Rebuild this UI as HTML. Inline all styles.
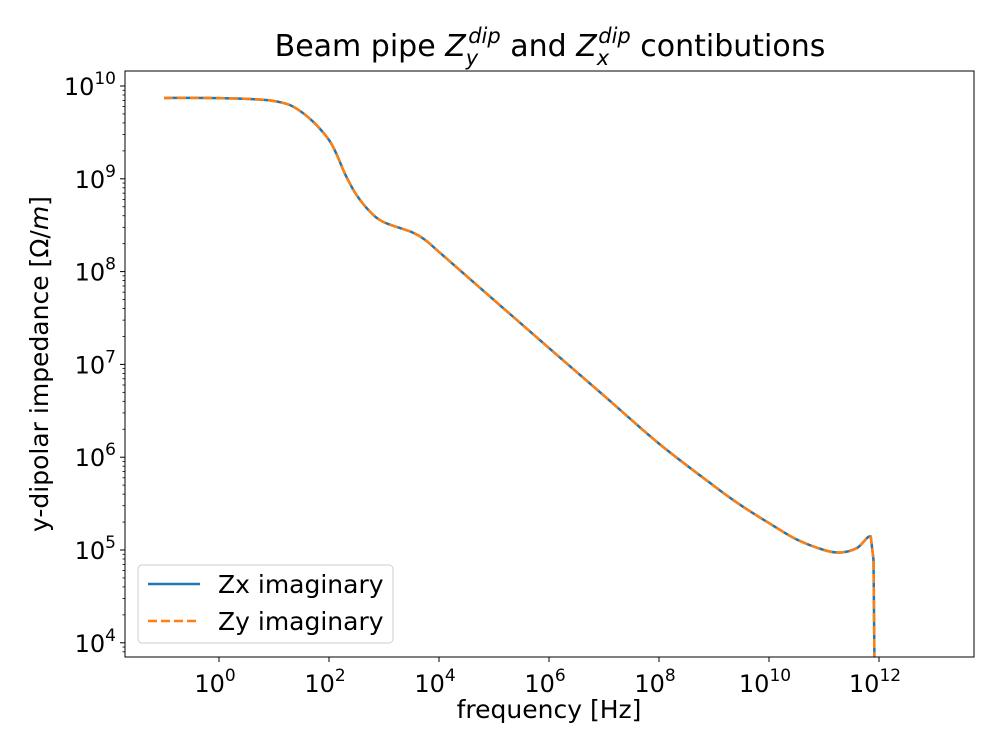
<!DOCTYPE html>
<html><head><meta charset="utf-8"><style>
body{margin:0;background:#fff}
svg text{font-family:"DejaVu Sans","Liberation Sans",sans-serif;fill:#000}
</style></head><body>
<svg id="c" width="1000" height="750" viewBox="0 0 1000 750">
<text x="550" y="56" font-size="30" text-anchor="middle">Beam pipe <tspan font-style="italic">Z</tspan><tspan font-style="italic" font-size="21" dy="9">y</tspan><tspan font-style="italic" font-size="21" dx="-10" dy="-22">dip</tspan><tspan dy="13"> and </tspan><tspan font-style="italic">Z</tspan><tspan font-style="italic" font-size="21" dy="9">x</tspan><tspan font-style="italic" font-size="21" dx="-11" dy="-22">dip</tspan><tspan dy="13"> contibutions</tspan></text>
<g id="axes"></g>
<g id="series"></g>
<rect x="125" y="71" width="849" height="586" fill="none" stroke="#000" stroke-width="1"/>
<text x="549" y="718" font-size="25" text-anchor="middle">frequency [Hz]</text>
<text transform="translate(48,364) rotate(-90)" font-size="25" text-anchor="middle">y-dipolar impedance [Ω/<tspan font-style="italic">m</tspan>]</text>
<g>
<rect x="138" y="565" width="255" height="78" rx="4" fill="#fff" fill-opacity="0.8" stroke="#ccc"/>
<line x1="148" y1="584" x2="200" y2="584" stroke="#1f77b4" stroke-width="2.5"/>
<text x="218" y="593" font-size="25">Zx imaginary</text>
<line x1="148" y1="621" x2="200" y2="621" stroke="#ff7f0e" stroke-width="2.5" stroke-dasharray="9,4"/>
<text x="218" y="630" font-size="25">Zy imaginary</text>
</g>
</svg>
<script>
const freqExp = [-1,0,1,1.5,2,2.3,2.5,2.75,3,3.5,3.75,4,5,6,7,8,9,9.5,10,10.5,11,11.3,11.6,11.85,11.9,11.93];
const zxImag = [7.43e9,7.4e9,6.9e9,5.25e9,2.62e9,1.1e9,6.7e8,4.4e8,3.4e8,2.67e8,2.19e8,1.63e8,4.94e7,1.5e7,4.6e6,1.4e6,4.9e5,3.0e5,1.95e5,1.3e5,1.0e5,9.4e4,1.05e5,1.4e5,7.8e4,1e3];
const zyImag = [7.43e9,7.4e9,6.9e9,5.25e9,2.62e9,1.1e9,6.7e8,4.4e8,3.4e8,2.67e8,2.19e8,1.63e8,4.94e7,1.5e7,4.6e6,1.4e6,4.9e5,3.0e5,1.95e5,1.3e5,1.0e5,9.4e4,1.05e5,1.4e5,7.8e4,1e3];
const xTickExp = [0,2,4,6,8,10,12];
const yTickExp = [4,5,6,7,8,9,10];
const NS='http://www.w3.org/2000/svg';
const X = e => 219 + 55*e;
const Y = v => 86 + (10 - Math.log10(v))*92.8;
const axes=document.getElementById('axes'), ser=document.getElementById('series');
function mk(t,a,p){const e=document.createElementNS(NS,t);for(const k in a)e.setAttribute(k,a[k]);p.appendChild(e);return e;}
xTickExp.forEach(e=>{
  const x=X(e);
  const l=mk('line',{x1:x,x2:x,y1:657,y2:662,stroke:'#000'},axes);
  
  
  const t=mk('text',{x:x-4,y:692,'font-size':24,'text-anchor':'middle'},axes);
  
  
  t.innerHTML='10<tspan font-size="17" dy="-11">'+e+'</tspan>';
});
yTickExp.forEach(e=>{
  const y=Y(Math.pow(10,e));
  const l=mk('line',{x1:120,x2:125,y1:y,y2:y,stroke:'#000'},axes);
  
  
  const t=mk('text',{x:116,y:y+9,'font-size':24,'text-anchor':'end'},axes);
  
  
  t.innerHTML='10<tspan font-size="17" dy="-11">'+e+'</tspan>';
});
for(let e=3;e<=10;e++)for(let m=2;m<=9;m++){
  const y=Y(m*Math.pow(10,e)); if(y<71||y>657)continue;
  const l=mk('line',{x1:122.5,x2:125,y1:y,y2:y,stroke:'#000','stroke-width':0.8},axes);
  
  
}
function path(vals){
  const p=freqExp.map((e,i)=>[X(e),Y(vals[i])]);
  let d='M'+p[0][0]+','+p[0][1];
  for(let i=0;i<p.length-1;i++){
    const p0=p[i-1]||p[i],p1=p[i],p2=p[i+1],p3=p[i+2]||p2;
    const t=(i>=p.length-3)?0:1/6;
    d+=' C'+(p1[0]+(p2[0]-p0[0])*t)+','+(p1[1]+(p2[1]-p0[1])*t)+' '+(p2[0]-(p3[0]-p1[0])*t)+','+(p2[1]-(p3[1]-p1[1])*t)+' '+p2[0]+','+p2[1];
  }
  return d;
}
mk('clipPath',{id:'clip'},document.getElementById('c')).appendChild(document.createElementNS(NS,'rect'));
const cr=document.querySelector('#clip rect');cr.setAttribute('x',125);cr.setAttribute('y',71);cr.setAttribute('width',849);cr.setAttribute('height',586);
ser.setAttribute('clip-path','url(#clip)');
const a=mk('path',{d:path(zxImag),fill:'none',stroke:'#1f77b4','stroke-width':2.5},ser);


const b=mk('path',{d:path(zyImag),fill:'none',stroke:'#ff7f0e','stroke-width':2.5,'stroke-dasharray':'9,4'},ser);


</script>
</body></html>
